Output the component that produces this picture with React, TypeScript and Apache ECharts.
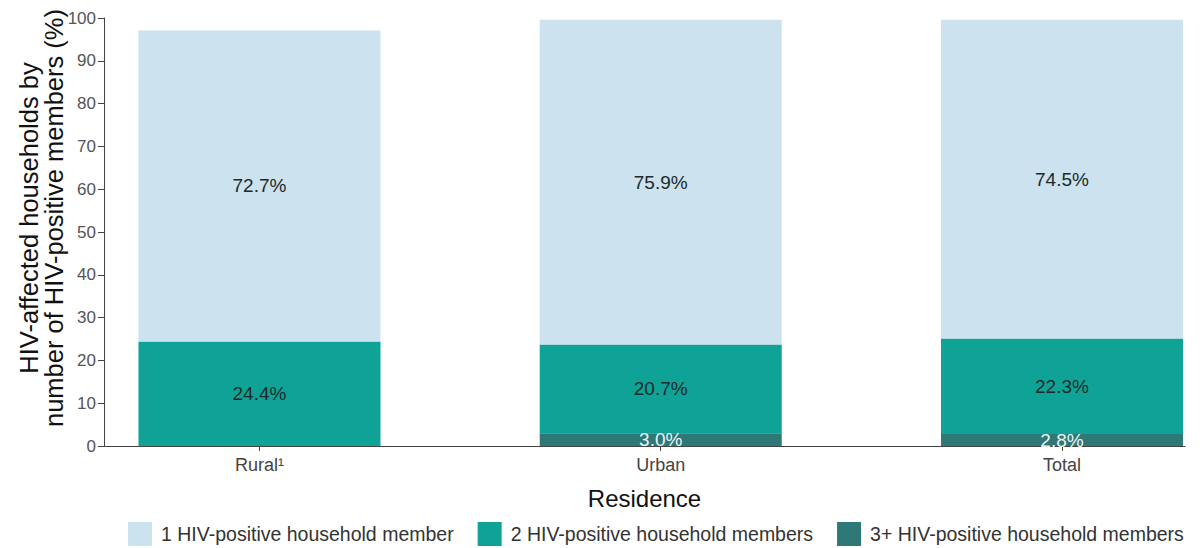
import React, { useEffect, useRef } from "react";
import * as echarts from "echarts";

const categories = ["Rural¹", "Urban", "Total"];
const seriesNames = [
  "1 HIV-positive household member",
  "2 HIV-positive household members",
  "3+ HIV-positive household members",
];
const one = [72.7, 75.9, 74.5];
const two = [24.4, 20.7, 22.3];
const threePlus: (number | string)[] = ["-", 3.0, 2.8];

const colors = ["#cce2ef", "#0fa397", "#2e7878"];
const FONT = "Liberation Sans, Arial, sans-serif";

export default function App() {
  const ref = useRef<HTMLDivElement>(null);
  useEffect(() => {
    if (!ref.current) return;
    const chart = echarts.init(ref.current, undefined, { renderer: "svg" });
    const idx = categories.map((_, i) => i);
    const fmt = (p: any) => Number(p.value[0]).toFixed(1) + "%";
    const mk = (name: string, vals: (number | string)[], color: string, labelColor: string) => ({
      name,
      type: "bar",
      stack: "total",
      barWidth: 242,
      itemStyle: { color },
      encode: { x: 1, y: 0 },
      label: {
        show: true,
        position: "inside",
        formatter: fmt,
        color: labelColor,
        fontSize: 19,
        fontFamily: FONT,
      },
      data: idx.map((i) => [vals[i], i]),
    });
    chart.setOption({
      animation: false,
      textStyle: { fontFamily: FONT },
      grid: { left: 104, right: 15, top: 18, bottom: 102, containLabel: false },
      xAxis: {
        type: "value",
        min: -0.3875,
        max: 2.3066,
        splitLine: { show: false },
        axisLine: { show: true, onZero: false, lineStyle: { color: "#444", width: 1 } },
        axisTick: { show: true, customValues: idx, length: 5, lineStyle: { color: "#444" } },
        axisLabel: {
          show: true,
          customValues: idx,
          formatter: (v: number) => categories[Math.round(v)] ?? "",
          fontSize: 18,
          color: "#444",
          margin: 10,
        },
        name: "Residence",
        nameLocation: "middle",
        nameGap: 40,
        nameTextStyle: { fontSize: 24, color: "#111" },
      },
      yAxis: {
        type: "value",
        min: 0,
        max: 100,
        interval: 10,
        splitLine: { show: false },
        axisLine: { show: true, onZero: false, lineStyle: { color: "#444", width: 1 } },
        axisTick: { show: true, length: 6, lineStyle: { color: "#444" } },
        axisLabel: { fontSize: 17, color: "#555", margin: 8 },
      },
      graphic: [
        {
          type: "text",
          x: 41,
          y: 218,
          rotation: Math.PI / 2,
          style: {
            text: "HIV-affected households by\nnumber of HIV-positive members (%)",
            fontSize: 25.5,
            lineHeight: 25,
            fill: "#111",
            fontFamily: FONT,
            align: "center",
            verticalAlign: "middle",
          },
        },
      ],
      legend: {
        top: 522,
        left: 128,
        right: 0,
        padding: 0,
        itemWidth: 24,
        itemHeight: 24,
        itemGap: 24,
        data: seriesNames,
        textStyle: { fontSize: 19.5, color: "#333", padding: [0, 0, 0, 4] },
        icon: "rect",
      },
      series: [
        mk(seriesNames[2], threePlus, colors[2], "#e8f4f4"),
        mk(seriesNames[1], two, colors[1], "#1c2a2a"),
        mk(seriesNames[0], one, colors[0], "#1c2a2a"),
      ],
    });
    return () => chart.dispose();
  }, []);
  return (
    <div
      ref={ref}
      style={{ position: "absolute", left: 0, top: 0, width: 1200, height: 548 }}
    />
  );
}
